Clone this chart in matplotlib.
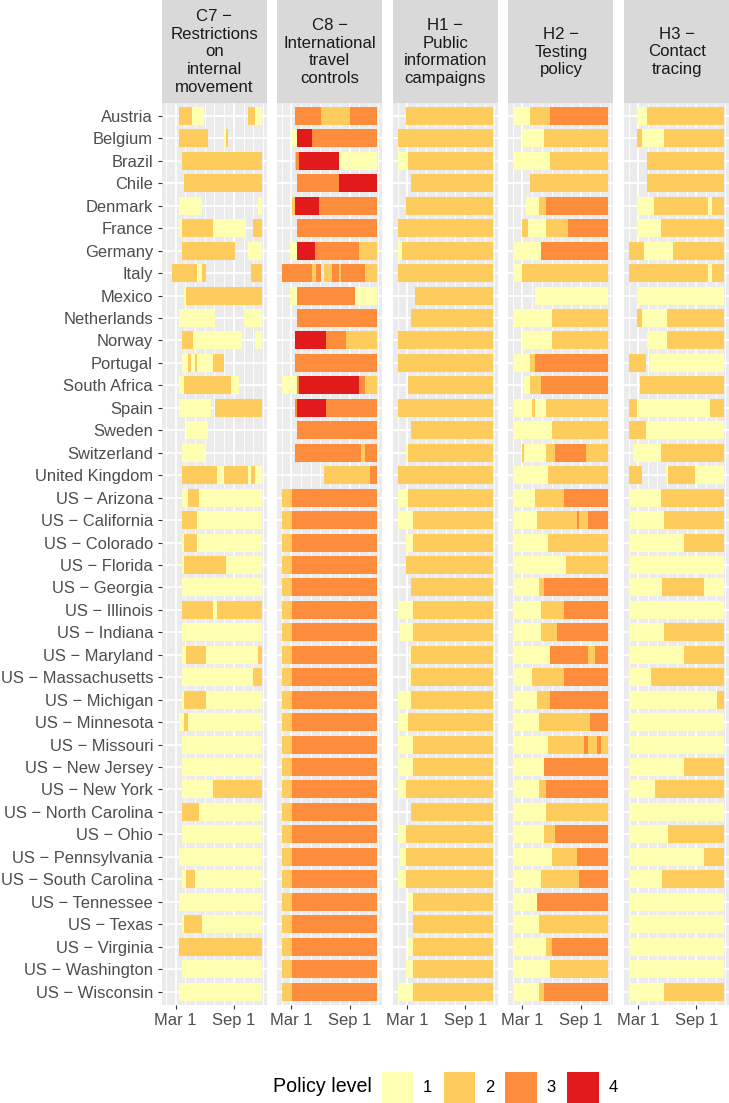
import matplotlib
matplotlib.use("Agg")
import matplotlib.pyplot as plt
from matplotlib.patches import Rectangle

plt.rcParams['font.family'] = ['Liberation Sans', 'DejaVu Sans']

# ---------------- data (x values are days since 2020-01-01) ----------------
regions = ["Austria", "Belgium", "Brazil", "Chile", "Denmark", "France", "Germany",
           "Italy", "Mexico", "Netherlands", "Norway", "Portugal", "South Africa",
           "Spain", "Sweden", "Switzerland", "United Kingdom",
           "US \u2212 Arizona", "US \u2212 California", "US \u2212 Colorado",
           "US \u2212 Florida", "US \u2212 Georgia", "US \u2212 Illinois",
           "US \u2212 Indiana", "US \u2212 Maryland", "US \u2212 Massachusetts",
           "US \u2212 Michigan", "US \u2212 Minnesota", "US \u2212 Missouri",
           "US \u2212 New Jersey", "US \u2212 New York", "US \u2212 North Carolina",
           "US \u2212 Ohio", "US \u2212 Pennsylvania", "US \u2212 South Carolina",
           "US \u2212 Tennessee", "US \u2212 Texas", "US \u2212 Virginia",
           "US \u2212 Washington", "US \u2212 Wisconsin"]

strip_titles = [["C7 \u2212", "Restrictions", "on", "internal", "movement"],
                ["C8 \u2212", "International", "travel", "controls"],
                ["H1 \u2212", "Public", "information", "campaigns"],
                ["H2 \u2212", "Testing", "policy"],
                ["H3 \u2212", "Contact", "tracing"]]

level_labels = [1, 2, 3, 4]
level_colors = ["#FFFFB2", "#FECC5C", "#FD8D3C", "#E31A1C"]

x_breaks = [60, 244]
x_break_labels = ["Mar 1", "Sep 1"]
x_minor_breaks = [31, 91, 121, 152, 182, 213, 274, 305, 335]

# segments per region: (start_day, end_day, level)
c7_segments = [
    [(71, 112, 2), (112, 148, 1), (289, 310, 2), (310, 331, 1)],
    [(71, 163, 2), (212, 218, 1), (218, 226, 2)],
    [(79, 331, 2)],
    [(86, 331, 2)],
    [(71, 142, 1), (318, 331, 1)],
    [(72, 79, 1), (79, 177, 2), (177, 282, 1), (304, 331, 2)],
    [(79, 247, 2), (289, 331, 1)],
    [(50, 126, 2), (126, 142, 1), (142, 156, 2), (297, 331, 2)],
    [(86, 92, 1), (92, 331, 2)],
    [(71, 184, 1), (274, 331, 1)],
    [(79, 114, 2), (114, 268, 1), (310, 331, 1)],
    [(79, 100, 1), (100, 107, 2), (107, 121, 1), (121, 126, 2), (126, 177, 1), (177, 212, 2)],
    [(71, 86, 1), (86, 233, 2), (233, 261, 1)],
    [(71, 170, 1), (184, 331, 2)],
    [(92, 163, 1)],
    [(79, 156, 1)],
    [(79, 191, 2), (191, 212, 1), (212, 289, 2), (289, 297, 1), (297, 310, 2), (310, 331, 1)],
    [(79, 100, 1), (100, 135, 2), (135, 331, 1)],
    [(79, 128, 2), (128, 331, 1)],
    [(79, 86, 1), (86, 128, 2), (128, 331, 1)],
    [(79, 86, 1), (86, 219, 2), (219, 331, 1)],
    [(79, 331, 1)],
    [(79, 177, 2), (177, 191, 1), (191, 331, 2)],
    [(79, 331, 1)],
    [(79, 92, 1), (92, 156, 2), (156, 318, 1), (318, 331, 2)],
    [(79, 303, 1), (303, 331, 2)],
    [(79, 86, 1), (86, 156, 2), (156, 331, 1)],
    [(71, 86, 1), (86, 100, 2), (100, 331, 1)],
    [(79, 331, 1)],
    [(79, 331, 1)],
    [(79, 177, 1), (177, 331, 2)],
    [(79, 135, 2), (135, 331, 1)],
    [(79, 331, 1)],
    [(71, 331, 1)],
    [(79, 92, 1), (92, 121, 2), (121, 331, 1)],
    [(71, 331, 1)],
    [(79, 86, 1), (86, 142, 2), (142, 331, 1)],
    [(71, 331, 2)],
    [(79, 331, 1)],
    [(71, 331, 1)],
]

us_c8 = [(31, 63, 2), (63, 331, 3)]
c8_segments = [
    [(71, 155, 3), (155, 246, 2), (246, 331, 3)],
    [(63, 77, 1), (77, 126, 4), (126, 331, 3)],
    [(71, 74, 2), (74, 84, 3), (84, 210, 4), (210, 331, 1)],
    [(77, 210, 3), (210, 331, 4)],
    [(63, 71, 2), (71, 147, 4), (147, 331, 3)],
    [(77, 331, 3)],
    [(57, 77, 1), (77, 134, 4), (134, 273, 3), (273, 331, 2)],
    [(31, 126, 3), (126, 139, 2), (139, 155, 3), (162, 189, 2), (189, 210, 3),
     (210, 218, 2), (218, 294, 3), (294, 331, 2)],
    [(57, 77, 1), (77, 260, 3), (260, 331, 1)],
    [(77, 331, 3)],
    [(71, 168, 4), (168, 231, 3), (231, 331, 2)],
    [(71, 331, 3)],
    [(31, 77, 1), (77, 84, 3), (84, 273, 4), (273, 294, 3), (294, 331, 2)],
    [(71, 77, 3), (77, 168, 4), (168, 331, 3)],
    [(77, 331, 3)],
    [(71, 281, 3), (281, 294, 2), (294, 331, 3)],
    [(162, 309, 2), (309, 331, 3)],
] + [us_c8] * 23

h1_segments = [
    [(58, 331, 2)],
    [(31, 331, 2)],
    [(31, 65, 1), (65, 331, 2)],
    [(72, 331, 2)],
    [(58, 331, 2)],
    [(31, 331, 2)],
    [(31, 44, 1), (44, 331, 2)],
    [(31, 331, 2)],
    [(86, 331, 2)],
    [(72, 331, 2)],
    [(31, 331, 2)],
    [(31, 331, 2)],
    [(65, 331, 2)],
    [(31, 331, 2)],
    [(72, 331, 2)],
    [(58, 65, 1), (65, 331, 2)],
    [(31, 331, 2)],
    [(31, 65, 1), (65, 331, 2)],
    [(31, 79, 1), (79, 331, 2)],
    [(58, 79, 1), (79, 331, 2)],
    [(58, 331, 2)],
    [(72, 331, 2)],
    [(31, 79, 1), (79, 331, 2)],
    [(37, 79, 1), (79, 331, 2)],
    [(68, 72, 1), (72, 331, 2)],
    [(68, 72, 1), (72, 331, 2)],
    [(31, 72, 1), (72, 331, 2)],
    [(31, 65, 1), (65, 331, 2)],
    [(31, 79, 1), (79, 331, 2)],
    [(31, 79, 1), (79, 331, 2)],
    [(31, 58, 1), (58, 331, 2)],
    [(72, 331, 2)],
    [(31, 58, 1), (58, 331, 2)],
    [(37, 58, 1), (58, 331, 2)],
    [(31, 58, 1), (58, 331, 2)],
    [(65, 79, 1), (79, 331, 2)],
    [(79, 331, 2)],
    [(65, 79, 1), (79, 331, 2)],
    [(58, 79, 1), (79, 331, 2)],
    [(31, 79, 1), (79, 331, 2)],
]

h2_segments = [
    [(31, 85, 1), (85, 148, 2), (148, 331, 3)],
    [(57, 127, 1), (127, 331, 2)],
    [(31, 148, 1), (148, 331, 2)],
    [(85, 331, 2)],
    [(70, 112, 1), (112, 133, 2), (133, 331, 3)],
    [(57, 78, 2), (78, 133, 1), (133, 204, 2), (204, 331, 3)],
    [(31, 120, 1), (120, 331, 3)],
    [(31, 57, 1), (57, 331, 2)],
    [(99, 331, 1)],
    [(31, 154, 1), (154, 331, 2)],
    [(57, 154, 1), (154, 331, 2)],
    [(31, 85, 1), (85, 99, 2), (99, 331, 3)],
    [(64, 85, 1), (85, 120, 2), (120, 331, 3)],
    [(31, 91, 1), (91, 99, 2), (99, 133, 1), (133, 331, 2)],
    [(31, 154, 1), (154, 331, 2)],
    [(57, 64, 2), (64, 133, 1), (133, 162, 2), (162, 259, 3), (259, 331, 2)],
    [(31, 141, 1), (141, 331, 2)],
    [(31, 99, 1), (99, 190, 2), (190, 331, 3)],
    [(31, 106, 1), (106, 232, 2), (232, 238, 3), (238, 267, 2), (267, 331, 3)],
    [(31, 141, 1), (141, 331, 2)],
    [(31, 196, 1), (196, 331, 2)],
    [(31, 112, 1), (112, 127, 2), (127, 331, 3)],
    [(31, 120, 1), (120, 190, 2), (190, 331, 3)],
    [(31, 120, 1), (120, 169, 2), (169, 331, 3)],
    [(31, 148, 1), (148, 267, 3), (267, 288, 2), (288, 331, 3)],
    [(31, 91, 1), (91, 190, 2), (190, 331, 3)],
    [(31, 106, 1), (106, 148, 2), (148, 331, 3)],
    [(31, 112, 1), (112, 274, 2), (274, 331, 3)],
    [(31, 141, 1), (141, 253, 2), (253, 267, 3), (267, 295, 2), (295, 309, 3), (309, 331, 2)],
    [(31, 127, 1), (127, 331, 3)],
    [(31, 112, 1), (112, 133, 2), (133, 331, 3)],
    [(31, 133, 1), (133, 331, 2)],
    [(31, 127, 1), (127, 162, 2), (162, 331, 3)],
    [(31, 154, 1), (154, 232, 2), (232, 331, 3)],
    [(31, 120, 1), (120, 238, 2), (238, 331, 3)],
    [(31, 106, 1), (106, 331, 3)],
    [(31, 112, 1), (112, 331, 2)],
    [(31, 133, 1), (133, 154, 2), (154, 331, 3)],
    [(31, 148, 1), (148, 331, 2)],
    [(31, 112, 1), (112, 127, 2), (127, 331, 3)],
]

h3_segments = [
    [(58, 89, 1), (89, 331, 2)],
    [(58, 72, 2), (72, 141, 1), (141, 331, 2)],
    [(89, 331, 2)],
    [(89, 331, 2)],
    [(58, 110, 1), (110, 280, 2), (280, 293, 1), (293, 331, 2)],
    [(58, 133, 1), (133, 331, 2)],
    [(31, 79, 2), (79, 170, 1), (170, 331, 2)],
    [(31, 280, 2), (280, 293, 1), (293, 331, 2)],
    [(58, 331, 1)],
    [(58, 72, 2), (72, 151, 1), (151, 331, 2)],
    [(89, 151, 1), (151, 331, 2)],
    [(31, 86, 2), (98, 331, 1)],
    [(65, 331, 2)],
    [(31, 58, 2), (58, 288, 1), (288, 331, 2)],
    [(31, 86, 2), (86, 331, 1)],
    [(44, 133, 1), (133, 331, 2)],
    [(31, 72, 2), (149, 154, 1), (154, 240, 2), (240, 331, 1)],
    [(31, 133, 1), (133, 331, 2)],
    [(31, 141, 1), (141, 331, 2)],
    [(31, 204, 1), (204, 331, 2)],
    [(31, 331, 1)],
    [(31, 135, 1), (135, 267, 2), (267, 331, 1)],
    [(31, 331, 1)],
    [(31, 141, 1), (141, 331, 2)],
    [(31, 204, 1), (204, 331, 2)],
    [(31, 100, 1), (100, 331, 2)],
    [(31, 309, 1), (309, 331, 2)],
    [(31, 331, 1)],
    [(31, 331, 1)],
    [(31, 204, 1), (204, 331, 2)],
    [(31, 112, 1), (112, 331, 2)],
    [(31, 331, 1)],
    [(31, 154, 1), (154, 331, 2)],
    [(31, 267, 1), (267, 331, 2)],
    [(31, 135, 1), (135, 331, 2)],
    [(31, 331, 1)],
    [(31, 331, 1)],
    [(31, 331, 1)],
    [(31, 331, 1)],
    [(31, 141, 1), (141, 331, 2)],
]

panel_segments = [c7_segments, c8_segments, h1_segments, h2_segments, h3_segments]

# ---------------- layout ----------------
W, H = 729, 1103
fig = plt.figure(figsize=(W / 100, H / 100), dpi=100)
fig.patch.set_facecolor("white")

panel_left0 = 161.7
panel_pitch = 115.6
panel_w = 105.0
panel_top = 102.5
panel_bottom = 1005.0
strip_top = 0.0

text_col = "#4D4D4D"
tick_col = "#333333"
fs_axis = 11.9

color_of = dict(zip(level_labels, level_colors))

for k, segs in enumerate(panel_segments):
    left = panel_left0 + k * panel_pitch
    ax = fig.add_axes([left / W, 1 - panel_bottom / H, panel_w / W,
                       (panel_bottom - panel_top) / H])
    ax.set_facecolor("#EBEBEB")
    ax.set_axisbelow(True)
    ys, lefts, widths, cols = [], [], [], []
    for i, row in enumerate(segs):
        for (s, e, lv) in row:
            ys.append(i)
            lefts.append(s)
            widths.append(e - s)
            cols.append(color_of[lv])
    ax.barh(ys, widths, left=lefts, height=0.8, color=cols, linewidth=0)
    ax.set_xlim(16, 347)
    ax.set_ylim(len(regions) - 1 + 0.6, -0.6)
    ax.set_xticks(x_breaks)
    ax.set_xticklabels(x_break_labels)
    ax.set_xticks(x_minor_breaks, minor=True)
    ax.set_yticks(range(len(regions)))
    ax.grid(which="major", color="white", linewidth=1.3)
    ax.grid(which="minor", axis="x", color="white", linewidth=0.65)
    for sp in ax.spines.values():
        sp.set_visible(False)
    ax.tick_params(axis="x", which="major", length=3.2, width=0.8, color=tick_col,
                   labelsize=fs_axis, labelcolor=text_col, pad=2.5)
    ax.tick_params(which="minor", length=0)
    if k == 0:
        ax.set_yticklabels(regions)
        ax.tick_params(axis="y", length=3.2, width=0.8, color=tick_col,
                       labelsize=fs_axis, labelcolor=text_col, pad=3.0)
    else:
        ax.tick_params(axis="y", length=0, labelleft=False)

    # strip
    fig.add_artist(Rectangle((left / W, 1 - panel_top / H), panel_w / W,
                             (panel_top - strip_top) / H, transform=fig.transFigure,
                             facecolor="#D9D9D9", edgecolor="none"))
    lines = strip_titles[k]
    n = len(lines)
    for j, ln in enumerate(lines):
        yc = 51.5 + (j - (n - 1) / 2) * 17.6
        fig.text((left + panel_w / 2) / W, 1 - (yc + 5.0) / H, ln, ha="center",
                 va="baseline", fontsize=12.1, color="#1A1A1A")

# ---------------- legend ----------------
leg_y0, leg_y1 = 1071.5, 1102.5
fig.text(273 / W, 1 - (leg_y0 + leg_y1) / 2 / H, "Policy level", ha="left",
         va="center", fontsize=14.1, color="black")
key_lefts = [381.7, 443.5, 505.3, 567.0]
for lv, col, kl in zip(level_labels, level_colors, key_lefts):
    fig.add_artist(Rectangle((kl / W, 1 - leg_y1 / H), 31.5 / W, (leg_y1 - leg_y0) / H,
                             transform=fig.transFigure, facecolor=col,
                             edgecolor="none"))
    fig.text((kl + 46) / W, 1 - (leg_y0 + leg_y1) / 2 / H, str(lv), ha="center",
             va="center", fontsize=fs_axis, color="black")

fig.savefig("out.png", dpi=100)
